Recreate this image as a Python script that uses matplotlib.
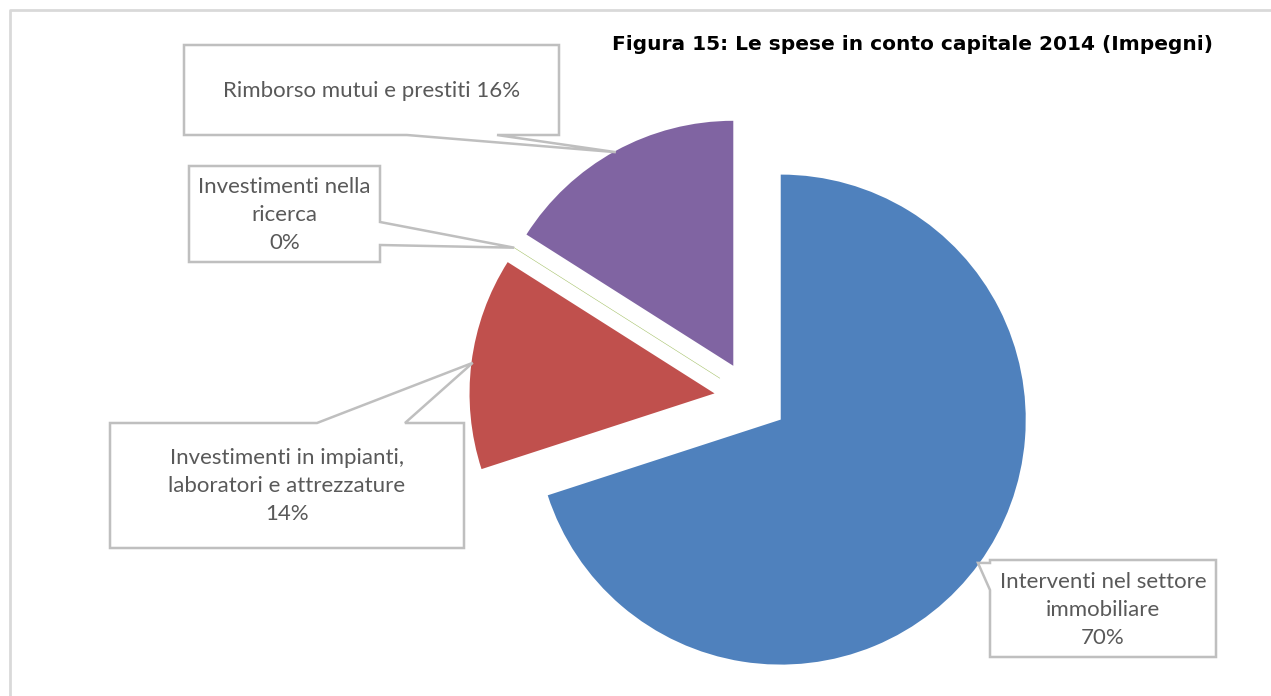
import numpy as np
import matplotlib

matplotlib.use("Agg")
import matplotlib.pyplot as plt
from matplotlib.patches import Polygon

# Capital expenditure 2014 (commitments), share by category
categories = [
    "Interventi nel settore\nimmobiliare",
    "Investimenti in impianti,\nlaboratori e attrezzature",
    "Investimenti nella\nricerca",
    "Rimborso mutui e prestiti",
]
shares = [70, 14, 0, 16]
colors = ["#4F81BD", "#C0504D", "#9BBB59", "#8064A2"]
title = "Figura 15: Le spese in conto capitale 2014 (Impegni)"

W, H = 1271, 696


def px(x, y):
    """Pixel position (origin top-left) to axes data coords."""
    return x, H - y


fig = plt.figure(figsize=(W / 100, H / 100), dpi=100)
ax = fig.add_axes([0, 0, 1, 1])

# light frame of the chart area (only top/left edges fall inside)
ax.plot([10, 10, W], [0, H - 10, H - 10], color="#d9d9d9", lw=2, zorder=0)

radius = 245
center = px(751, 398)
wedges, _ = ax.pie(
    shares,
    colors=colors,
    startangle=90,
    counterclock=False,
    radius=radius,
    center=center,
    explode=[0.15 * radius] * len(shares),
    frame=True,
)
ax.set_xlim(0, W)
ax.set_ylim(0, H)
ax.set_aspect("equal")
ax.axis("off")
for w, c in zip(wedges, colors):
    # a zero share still shows as a hairline
    w.set_edgecolor(c if w.theta2 - w.theta1 < 0.01 else "none")
    w.set_linewidth(0.35)


def wedge_tip(w):
    mid = np.deg2rad((w.theta1 + w.theta2) / 2)
    cx, cy = w.center
    return cx + w.r * 0.995 * np.cos(mid), cy + w.r * 0.995 * np.sin(mid)


# callout boxes: (x0, y0, x1, y1), pointer side, pointer base span
callouts = [
    ((990, 560, 1216, 657), "left", (563, 590)),
    ((110, 423, 464, 548), "top", (317, 405)),
    ((189, 166, 380, 262), "right", (222, 245)),
    ((184, 45, 559, 135), "bottom", (407, 497)),
]

label_font = dict(family=["Lato", "DejaVu Sans"], fontsize=16, color="#595959")

for w, cat, val, (box, side, base) in zip(wedges, categories, shares, callouts):
    x0, y0, x1, y1 = box
    tip = wedge_tip(w)
    a, b = base
    if side == "left":
        pts = [px(x0, y0), px(x1, y0), px(x1, y1), px(x0, y1), px(x0, b), tip, px(x0, a)]
    elif side == "top":
        pts = [px(x0, y0), px(a, y0), tip, px(b, y0), px(x1, y0), px(x1, y1), px(x0, y1)]
    elif side == "right":
        pts = [px(x0, y0), px(x1, y0), px(x1, a), tip, px(x1, b), px(x1, y1), px(x0, y1)]
    else:
        pts = [px(x0, y0), px(x1, y0), px(x1, y1), px(b, y1), tip, px(a, y1), px(x0, y1)]
    ax.add_patch(Polygon(pts, closed=True, facecolor="white", edgecolor="#bfbfbf",
                         lw=1.8, zorder=5))
    sep = " " if "\n" not in cat else "\n"
    ax.text(*px((x0 + x1) / 2, (y0 + y1) / 2 + 1), f"{cat}{sep}{val:.0f}%",
            ha="center", va="center", linespacing=1.5, zorder=6, **label_font)

ax.text(*px(1213, 45), title, ha="right", va="center", fontsize=14.5,
        fontweight="bold", color="#000000", family=["DejaVu Sans"])

fig.savefig("out.png", dpi=100)
